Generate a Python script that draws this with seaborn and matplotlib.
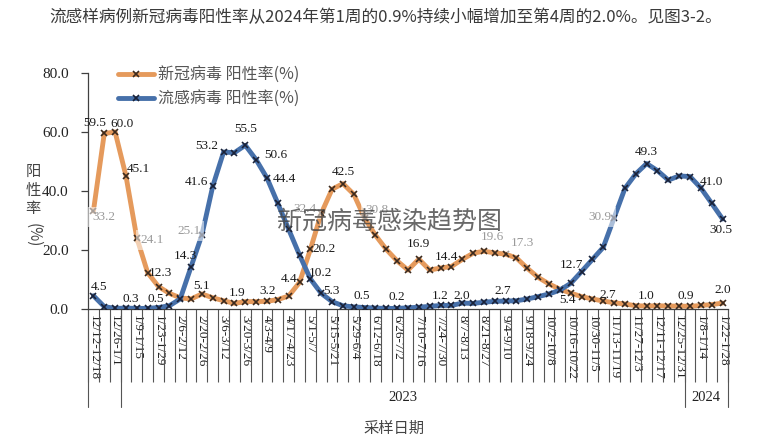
"""Weekly positivity rates of SARS-CoV-2 and influenza in ILI samples"""

import matplotlib
matplotlib.use('Agg')
import matplotlib.pyplot as plt
import matplotlib.transforms as mtransforms
import seaborn as sns
import numpy as np
import pandas as pd

sns.set_theme(style='white')
plt.rcParams['font.family'] = ['Liberation Serif', 'Noto Sans CJK SC', 'DejaVu Sans']
CJK = ['Noto Sans CJK SC', 'DejaVu Sans']

# week labels shown on the axis (every other week, 12/12/2022 .. 1/28/2024)
week_labels = ['12/12-12/18', '12/26-1/1', '1/9-1/15', '1/23-1/29', '2/6-2/12',
               '2/20-2/26', '3/6-3/12', '3/20-3/26', '4/3-4/9', '4/17-4/23',
               '5/1-5/7', '5/15-5/21', '5/29-6/4', '6/12-6/18', '6/26-7/2',
               '7/10-7/16', '7/24-7/30', '8/7-8/13', '8/21-8/27', '9/4-9/10',
               '9/18-9/24', '10/2-10/8', '10/16-10/22', '10/30-11/5', '11/13-11/19',
               '11/27-12/3', '12/11-12/17', '12/25-12/31', '1/8-1/14', '1/22-1/28']
years = ['2023', '2024']
year_weeks = [3, 52, 4]   # weeks in 2022 / 2023 / 2024

covid = [33.2, 59.5, 60.0, 45.1, 24.1, 12.3, 7.6, 5.3, 3.8, 3.4,
         5.1, 3.8, 2.8, 1.9, 2.5, 2.5, 2.6, 3.2, 4.4, 9.0,
         20.2, 32.4, 40.6, 42.5, 38.9, 30.8, 25.0, 20.2, 16.3, 13.2,
         16.9, 13.2, 13.9, 14.4, 16.8, 18.9, 19.6, 19.0, 18.6, 17.3,
         13.8, 10.7, 8.5, 6.7, 5.4, 4.2, 3.4, 2.7, 2.1, 1.7,
         1.1, 1.0, 1.1, 1.0, 1.0, 0.9, 1.2, 1.5, 2.0]
flu = [4.5, 0.8, 0.2, 0.3, 0.2, 0.2, 0.5, 1.1, 3.4, 14.3,
       25.1, 41.6, 53.2, 53.0, 55.5, 50.6, 44.4, 35.8, 27.0, 18.3,
       10.2, 5.3, 2.5, 1.1, 0.7, 0.5, 0.3, 0.2, 0.2, 0.4,
       0.6, 0.9, 1.2, 1.2, 2.0, 1.9, 2.3, 2.6, 2.7, 2.8,
       3.4, 4.2, 5.1, 6.4, 8.7, 12.7, 16.8, 20.9, 30.9, 40.9,
       45.8, 49.3, 46.9, 43.7, 45.1, 44.9, 41.0, 35.8, 30.5]

# which points get a data label: index -> (dx px, dy px, faded?)
covid_lab = {0: (10, -6, 1), 1: (-10, 10, 0), 2: (7, 8, 0), 3: (12, 7, 0),
             4: (15, -2, 1), 5: (13, 0, 0), 10: (0, 8, 0), 13: (3, 10, 0),
             17: (-10, 9, 0), 18: (0, 17, 0), 20: (14, 0, 0), 21: (-16, 4, 1),
             23: (0, 12, 0), 25: (12, 8, 1), 30: (0, 15, 0), 33: (-5, 10, 0),
             36: (8, 14, 1), 39: (6, 15, 1), 44: (-3, -7, 0), 47: (4, 6, 0),
             51: (0, 10, 0), 55: (-4, 10, 0), 58: (0, 13, 0)}
flu_lab = {0: (6, 9, 0), 3: (5, 9, 0), 6: (-3, 9, 0), 9: (-6, 11, 0),
           10: (-13, 4, 1), 11: (-16, 4, 0), 12: (-17, 6, 0), 14: (0, 16, 0),
           15: (20, 5, 0), 16: (17, -1, 0), 20: (10, 6, 0), 21: (10, 2, 0),
           25: (-3, 12, 0), 28: (0, 11, 0), 32: (0, 9, 0), 34: (0, 7, 0),
           38: (-3, 10, 0), 45: (-10, 7, 0), 48: (-14, 1, 1), 51: (0, 12, 0),
           56: (11, 6, 0), 58: (-2, -11, 0)}

df = pd.DataFrame({'week': np.arange(len(covid)), 'covid': covid, 'flu': flu})

ORANGE = '#E59A5C'
BLUE = '#4670AA'

fig = plt.figure(figsize=(7.8, 4.36), dpi=100)
ax = fig.add_axes([88 / 780, 1 - 309 / 436, 640 / 780, 236 / 436])

sns.lineplot(data=df, x='week', y='covid', color=ORANGE, lw=3.5, marker='x', ms=4.5,
             mec='#3b2a1e', mew=1.2, label='新冠病毒 阳性率(%)', ax=ax, zorder=2,
             solid_joinstyle='round', solid_capstyle='round')
sns.lineplot(data=df, x='week', y='flu', color=BLUE, lw=3.5, marker='x', ms=4.5,
             mec='#1a2238', mew=1.2, label='流感病毒 阳性率(%)', ax=ax, zorder=3,
             solid_joinstyle='round', solid_capstyle='round')


def put_labels(vals, spec):
    for i, (dx, dy, faded) in spec.items():
        kw = {}
        if faded:
            kw['bbox'] = dict(boxstyle='square,pad=0.3', fc='white', ec='none', alpha=0.55)
        ax.annotate(f'{vals[i]:.1f}', (i, vals[i]), xytext=(dx, dy),
                    textcoords='offset pixels', ha='center', va='center',
                    fontsize=9.5, color='#9a9a9a' if faded else '#1a1a1a',
                    zorder=5, **kw)


put_labels(covid, covid_lab)
put_labels(flu, flu_lab)

ax.set_xlim(-0.5, len(covid) - 0.5)
ax.set_ylim(0, 80)
ax.set_xlabel('')
ax.set_ylabel('')

for s in ['top', 'right']:
    ax.spines[s].set_visible(False)
for s in ['left', 'bottom']:
    ax.spines[s].set_color('#404040')
    ax.spines[s].set_linewidth(0.9)

ax.set_yticks([0, 20, 40, 60, 80])
ax.set_yticklabels([f'{v:.1f}' for v in [0, 20, 40, 60, 80]])
ax.tick_params(axis='y', left=True, direction='out', length=5, width=0.9,
               color='#404040', pad=9, labelsize=11, labelcolor='#222222')

ax.set_xticks(np.arange(0, len(covid), 2))
ax.set_xticklabels(week_labels, rotation=270, va='top', ha='center', fontsize=9.5,
                   color='#222222')
ax.set_xticks(np.arange(-0.5, len(covid), 1), minor=True)
ax.tick_params(axis='x', which='major', bottom=True, length=0, pad=4)
ax.tick_params(axis='x', which='minor', bottom=True, direction='out', length=52.5,
               width=0.8, color='#555555')

# year row of the two-level category axis
trans = mtransforms.blended_transform_factory(ax.transData, ax.transAxes)
edges = np.concatenate([[0], np.cumsum(year_weeks)]) - 0.5
for xb in edges:
    ax.plot([xb, xb], [0, -98 / 236], transform=trans, clip_on=False,
            color='#555555', lw=0.8)
for k, yr in enumerate(years):
    ax.text((edges[k + 1] + edges[k + 2]) / 2, -88 / 236, yr, transform=trans,
            ha='center', va='center', fontsize=10.5, color='#222222')

# y label written vertically
fig.text(33 / 780, 1 - 190 / 436, '阳\n性\n率', family=CJK, fontsize=11,
         color='#444444', ha='center', va='center', linespacing=1.15)
fig.text(33 / 780, 1 - 235 / 436, '(%)', family=CJK, fontsize=11, rotation=270,
         color='#444444', ha='center', va='center')

fig.text(394 / 780, 1 - 428 / 436, '采样日期', family=CJK, fontsize=11,
         color='#444444', ha='center', va='center')

fig.text(49 / 780, 1 - 18 / 436, '流感样病例新冠病毒阳性率从2024年第1周的0.9%持续小幅增加至第4周的2.0%。见图3-2。',
         family=CJK, fontsize=12, color='#3a3a3a', ha='left', va='center')

# watermark
fig.text(390 / 780, 1 - 222 / 436, '新冠病毒感染趋势图', family=CJK, fontsize=18,
         fontweight='light', color='#444444', alpha=0.8, ha='center', va='center',
         zorder=10)

ax.legend(loc='upper left', bbox_to_anchor=(0.03, 1.075), frameon=False,
          prop={'family': CJK, 'size': 11.5}, labelcolor='#555555',
          handlelength=2.2, labelspacing=0.45, handletextpad=0.3, borderpad=0.2)

plt.savefig('out.png', dpi=100)
